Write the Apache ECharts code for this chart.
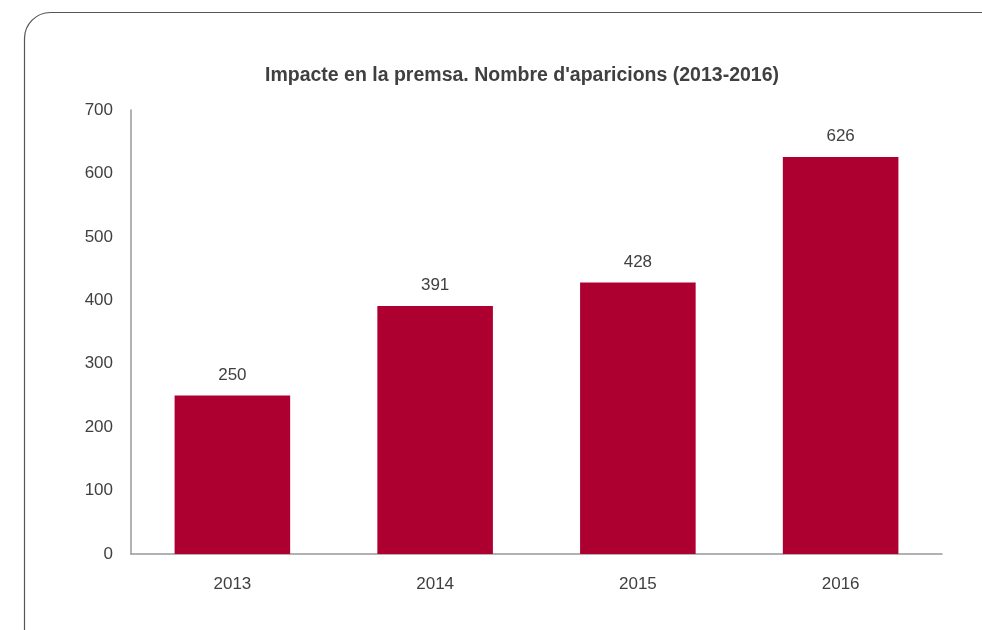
<!DOCTYPE html>
<html>
<head>
<meta charset="utf-8">
<style>
  html, body { margin: 0; padding: 0; background: #fff; }
  #chart { width: 982px; height: 630px; }
</style>
<script src="https://cdn.jsdelivr.net/npm/echarts@6/dist/echarts.min.js"></script>
</head>
<body>
<div id="chart"></div>
<script>
const years = ['2013', '2014', '2015', '2016'];
const appearances = [250, 391, 428, 626];
const yTicks = [0, 100, 200, 300, 400, 500, 600, 700];

const FONT = '"Liberation Sans Narrow", "Liberation Sans", Arial, sans-serif';
const TEXT = '#404040';

const chart = echarts.init(document.getElementById('chart'), null, { renderer: 'canvas' });
chart.setOption({
  backgroundColor: '#fff',
  animation: false,
  title: {
    text: "Impacte en la premsa. Nombre d'aparicions (2013-2016)",
    left: 517,
    textAlign: 'center',
    top: 61,
    textStyle: { fontFamily: FONT, fontSize: 19.5, fontWeight: 'bold', color: TEXT }
  },
  graphic: [{
    type: 'rect',
    silent: true,
    shape: { x: 24.5, y: 12.5, width: 1000, height: 700, r: 26 },
    style: { fill: 'none', stroke: '#555', lineWidth: 1.2 }
  }],
  grid: { left: 131, right: 40, top: 110, bottom: 76 },
  xAxis: {
    type: 'category',
    data: years,
    axisLine: { lineStyle: { color: '#999', width: 1.5 } },
    axisTick: { show: false },
    axisLabel: { fontFamily: FONT, fontSize: 17, color: TEXT, margin: 22 }
  },
  yAxis: {
    type: 'value',
    min: yTicks[0],
    max: yTicks[yTicks.length - 1],
    interval: 100,
    axisLine: { show: true, lineStyle: { color: '#999', width: 1.5 } },
    axisTick: { show: false },
    splitLine: { show: false },
    axisLabel: { fontFamily: FONT, fontSize: 17, color: TEXT, margin: 18 }
  },
  series: [{
    type: 'bar',
    data: appearances,
    barWidth: '57%',
    itemStyle: { color: '#AE0030' },
    label: {
      show: true,
      position: 'top',
      distance: 12,
      fontFamily: FONT,
      fontSize: 17,
      color: TEXT
    }
  }]
});
</script>
</body>
</html>
